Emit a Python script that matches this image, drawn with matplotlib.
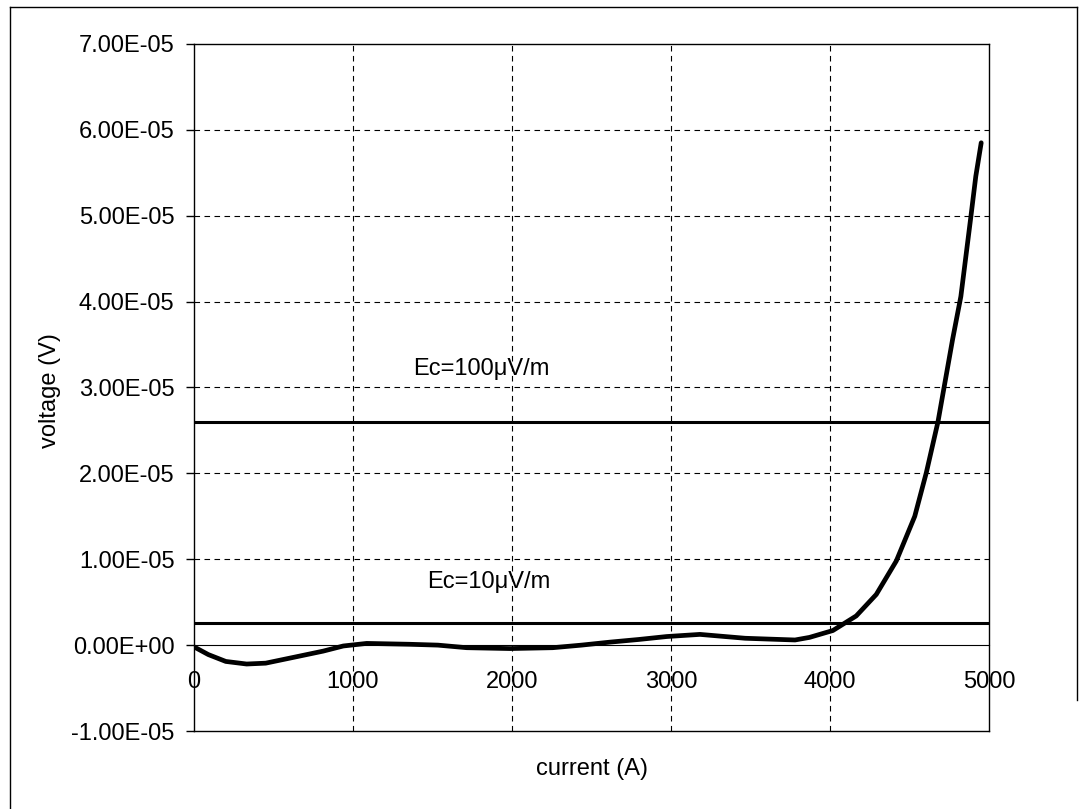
import numpy as np
import matplotlib
matplotlib.use("Agg")
import matplotlib.pyplot as plt
from matplotlib.lines import Line2D

plt.rcParams['font.family'] = ['Liberation Sans', 'DejaVu Sans']

# measured V-I curve
current = [0, 90, 200, 331, 451, 632, 812, 939, 1086, 1354, 1534, 1715,
           1987, 2256, 2437, 2617, 2798, 2973, 3182, 3339, 3466, 3620,
           3780, 3871, 4018, 4165, 4291, 4417, 4533, 4606, 4679, 4771,
           4823, 4886, 4917, 4951]
voltage_uV = [-0.2, -1.1, -1.9, -2.2, -2.1, -1.4, -0.7, -0.1, 0.2, 0.1,
              0.0, -0.3, -0.4, -0.3, 0.0, 0.35, 0.66, 1.0, 1.25, 1.0,
              0.8, 0.7, 0.6, 0.9, 1.7, 3.4, 5.9, 9.8, 15.0, 20.1, 26.0,
              35.6, 40.6, 49.9, 54.6, 58.5]

# criterion lines
ec_levels = [2.6e-6, 2.6e-5]
ec_labels = ["Ec=10\u03bcV/m", "Ec=100\u03bcV/m"]
ec_label_pos = [(1852, 7.4e-6), (1805, 3.22e-5)]

x_ticks = [0, 1000, 2000, 3000, 4000, 5000]
y_ticks = [-1e-5, 0, 1e-5, 2e-5, 3e-5, 4e-5, 5e-5, 6e-5, 7e-5]

FS = 17

fig = plt.figure(figsize=(10.9, 8.09), dpi=100)
ax = fig.add_axes([194 / 1090, 1 - 731 / 809, 795 / 1090, 687 / 809])

ax.set_xlim(0, 5000)
ax.set_ylim(-1e-5, 7e-5)

# dashed grid (Excel style), skipping the border positions
for xv in x_ticks[1:-1]:
    ax.axvline(xv, color='black', lw=0.8, ls=(0, (5, 4)), zorder=1)
for yv in y_ticks[2:-1]:
    ax.axhline(yv, color='black', lw=0.8, ls=(0, (5, 4)), zorder=1)

for lvl in ec_levels:
    ax.plot([0, 5000], [lvl, lvl], color='black', lw=2.2, zorder=3)
for txt, (tx, ty) in zip(ec_labels, ec_label_pos):
    ax.text(tx, ty, txt, ha='center', va='center', fontsize=FS)

ax.plot(current, np.array(voltage_uV) * 1e-6, color='black', lw=3.4,
        solid_capstyle='round', zorder=4)

# x axis crosses at y=0, frame drawn around the plot area
for s in ['left', 'right', 'top']:
    ax.spines[s].set_linewidth(1.0)
ax.spines['bottom'].set_position(('data', 0))
ax.spines['bottom'].set_linewidth(0.8)
ax.axhline(-1e-5, color='black', lw=1.0, clip_on=False)

ax.set_xticks(x_ticks)
ax.set_xticklabels([str(v) for v in x_ticks])
ax.set_yticks(y_ticks)
ax.set_yticklabels(["%.2E" % v if v != 0 else "0.00E+00" for v in y_ticks])
ax.tick_params(axis='x', direction='out', length=0, pad=18.5, labelsize=FS)
ax.tick_params(axis='y', direction='out', length=6, width=1, pad=8,
               labelsize=FS)

ax.set_xlabel("current (A)", fontsize=FS)
ax.xaxis.set_label_coords(0.5, -0.039)
ax.set_ylabel("voltage (V)", fontsize=FS)
ax.yaxis.set_label_coords(-0.167, 0.496)

# outer chart frame
W, H = 1090, 809
fig.add_artist(Line2D([10 / W, 10 / W], [0, 1 - 7 / H], color='black', lw=1,
                      transform=fig.transFigure))
fig.add_artist(Line2D([10 / W, 1077 / W], [1 - 7 / H, 1 - 7 / H], color='black',
                      lw=1, transform=fig.transFigure))
fig.add_artist(Line2D([1077 / W, 1077 / W], [1 - 7 / H, 1 - 700 / H],
                      color='black', lw=1, transform=fig.transFigure))

fig.savefig("out.png", dpi=100)
